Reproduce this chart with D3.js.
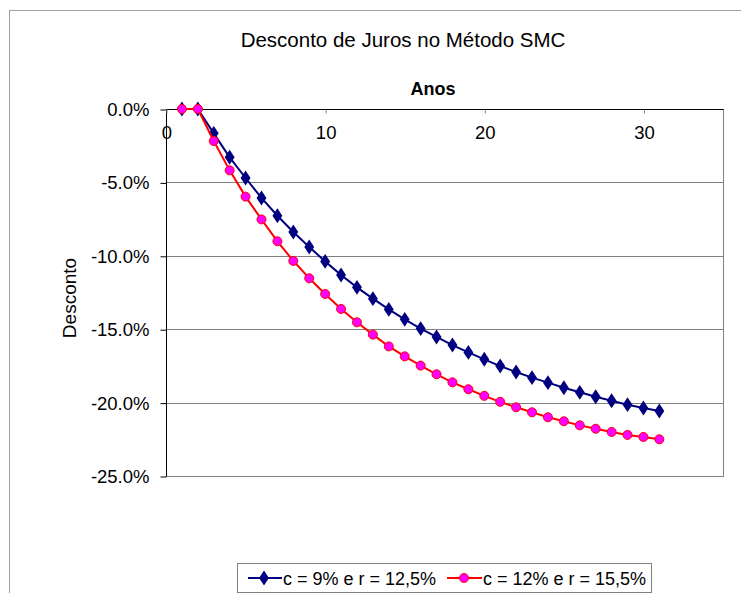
<!DOCTYPE html>
<html>
<head>
<meta charset="utf-8">
<script src="https://cdn.jsdelivr.net/npm/d3@7"></script>
<style>
  body { margin: 0; background: #fff; }
  svg text { font-family: "Liberation Sans", Arial, sans-serif; fill: #000; }
</style>
</head>
<body>
<svg class="chart" width="741" height="593"></svg>
<script>
/**********************
 Data
**********************/
var anos = d3.range(1, 32);
// desconto (%), c = 9% e r = 12,5%
var descontoA = [0, 0, -1.66, -3.29, -4.70, -6.06, -7.27, -8.38, -9.40, -10.38,
  -11.31, -12.15, -12.92, -13.65, -14.33, -14.96, -15.53, -16.08, -16.58, -17.05,
  -17.51, -17.92, -18.30, -18.64, -18.99, -19.30, -19.60, -19.87, -20.14, -20.37, -20.57];
// desconto (%), c = 12% e r = 15,5%
var descontoB = [0, 0, -2.18, -4.18, -5.97, -7.52, -9.01, -10.35, -11.53, -12.60,
  -13.62, -14.53, -15.37, -16.17, -16.85, -17.48, -18.07, -18.62, -19.09, -19.54,
  -19.95, -20.32, -20.66, -21.00, -21.27, -21.55, -21.78, -22.00, -22.20, -22.34, -22.50];
var seriesNames = ['c = 9% e r = 12,5%', 'c = 12% e r = 15,5%'];
var xTicks = [0, 10, 20, 30];
var yTicks = [0, -5, -10, -15, -20, -25];

/**********************
 Layout
**********************/
var svg = d3.select('svg.chart');
var plot = {l: 166, r: 723, t: 109, b: 476};

// outer chart border
svg.append('rect')
    .attr('x', 9.5).attr('y', 10.5)
    .attr('width', 760).attr('height', 600)
    .attr('fill', 'none').attr('stroke', '#a0a0a0');

var xScale = d3.scaleLinear().domain([0, 35]).range([plot.l, plot.r]);
var yScale = d3.scaleLinear().domain([-25, 0]).range([plot.b, plot.t]);

// gridlines
svg.append('g').selectAll('line')
    .data(yTicks.filter(function(d) { return d !== 0; }))
    .enter().append('line')
    .attr('x1', plot.l).attr('x2', plot.r)
    .attr('y1', function(d) { return Math.round(yScale(d)) + 0.5; })
    .attr('y2', function(d) { return Math.round(yScale(d)) + 0.5; })
    .attr('stroke', '#808080');

// right border of plot area
svg.append('line')
    .attr('x1', plot.r + 0.5).attr('x2', plot.r + 0.5)
    .attr('y1', plot.t).attr('y2', plot.b + 1)
    .attr('stroke', '#808080');

// y axis (plain hyphen for minus, like the original)
var yAxisG = svg.append('g')
    .attr('transform', 'translate(' + (plot.l + 0.5) + ',0.5)')
    .call(d3.axisLeft(yScale).tickValues(yTicks).tickSize(6).tickPadding(11)
      .tickFormat(function(d) { return d.toFixed(1) + '%'; }));
yAxisG.select('.domain').attr('stroke', '#000').attr('d', 'M0,' + plot.t + 'V' + plot.b);
yAxisG.selectAll('.tick line').attr('stroke', '#000');
yAxisG.selectAll('text').style('font-size', '18.5px').attr('fill', '#000');

// x axis (on top, at 0%)
var xAxisG = svg.append('g')
    .attr('transform', 'translate(0.5,' + (plot.t + 0.5) + ')')
    .call(d3.axisBottom(xScale).tickValues(xTicks).tickSize(4).tickPadding(12));
xAxisG.select('.domain').attr('stroke', '#000').attr('d', 'M' + plot.l + ',0H' + plot.r);
xAxisG.selectAll('.tick line').attr('stroke', '#808080');
xAxisG.selectAll('text').style('font-size', '18.5px').attr('fill', '#000');

// titles
svg.append('text')
    .attr('x', 403).attr('y', 47)
    .attr('text-anchor', 'middle')
    .style('font-size', '20.5px')
    .text('Desconto de Juros no Método SMC');
svg.append('text')
    .attr('x', 433).attr('y', 95)
    .attr('text-anchor', 'middle')
    .style('font-size', '18px').style('font-weight', 'bold')
    .text('Anos');
svg.append('text')
    .attr('transform', 'translate(76,298) rotate(-90)')
    .attr('text-anchor', 'middle')
    .style('font-size', '19px')
    .text('Desconto');

/**********************
 Series
**********************/
var line = d3.line()
    .x(function(d) { return xScale(d[0]); })
    .y(function(d) { return yScale(d[1]); });

var dataA = anos.map(function(a, i) { return [a, descontoA[i]]; });
var dataB = anos.map(function(a, i) { return [a, descontoB[i]]; });

var diamond = d3.symbol().type(d3.symbolDiamond).size(64);

svg.append('path').datum(dataA)
    .attr('d', line).attr('fill', 'none')
    .attr('stroke', '#000080').attr('stroke-width', 2);
svg.append('g').selectAll('path')
    .data(dataA).enter().append('path')
    .attr('d', diamond)
    .attr('transform', function(d) {
      return 'translate(' + xScale(d[0]) + ',' + yScale(d[1]) + ') scale(1.15,1)';
    })
    .attr('fill', '#000080');

svg.append('path').datum(dataB)
    .attr('d', line).attr('fill', 'none')
    .attr('stroke', '#ff0000').attr('stroke-width', 2);
svg.append('g').selectAll('circle')
    .data(dataB).enter().append('circle')
    .attr('cx', function(d) { return xScale(d[0]); })
    .attr('cy', function(d) { return yScale(d[1]); })
    .attr('r', 4.5)
    .attr('fill', '#ff00ff').attr('stroke', '#ff0000').attr('stroke-width', 1);

/**********************
 Legend
**********************/
var legendG = svg.append('g');
legendG.append('rect')
    .attr('x', 237.5).attr('y', 563.5)
    .attr('width', 414).attr('height', 29)
    .attr('fill', '#fff').attr('stroke', '#808080');

var legY = 578;
legendG.append('line')
    .attr('x1', 248).attr('x2', 282).attr('y1', legY).attr('y2', legY)
    .attr('stroke', '#000080').attr('stroke-width', 2);
legendG.append('path')
    .attr('d', diamond)
    .attr('transform', 'translate(264,' + legY + ') scale(1.15,1)')
    .attr('fill', '#000080');
legendG.append('text')
    .attr('x', 283).attr('y', legY + 7)
    .style('font-size', '18px')
    .text(seriesNames[0]);

legendG.append('line')
    .attr('x1', 447).attr('x2', 482).attr('y1', legY).attr('y2', legY)
    .attr('stroke', '#ff0000').attr('stroke-width', 2);
legendG.append('circle')
    .attr('cx', 464).attr('cy', legY).attr('r', 4.5)
    .attr('fill', '#ff00ff').attr('stroke', '#ff0000');
legendG.append('text')
    .attr('x', 483).attr('y', legY + 7)
    .style('font-size', '18px')
    .text(seriesNames[1]);
</script>
</body>
</html>
